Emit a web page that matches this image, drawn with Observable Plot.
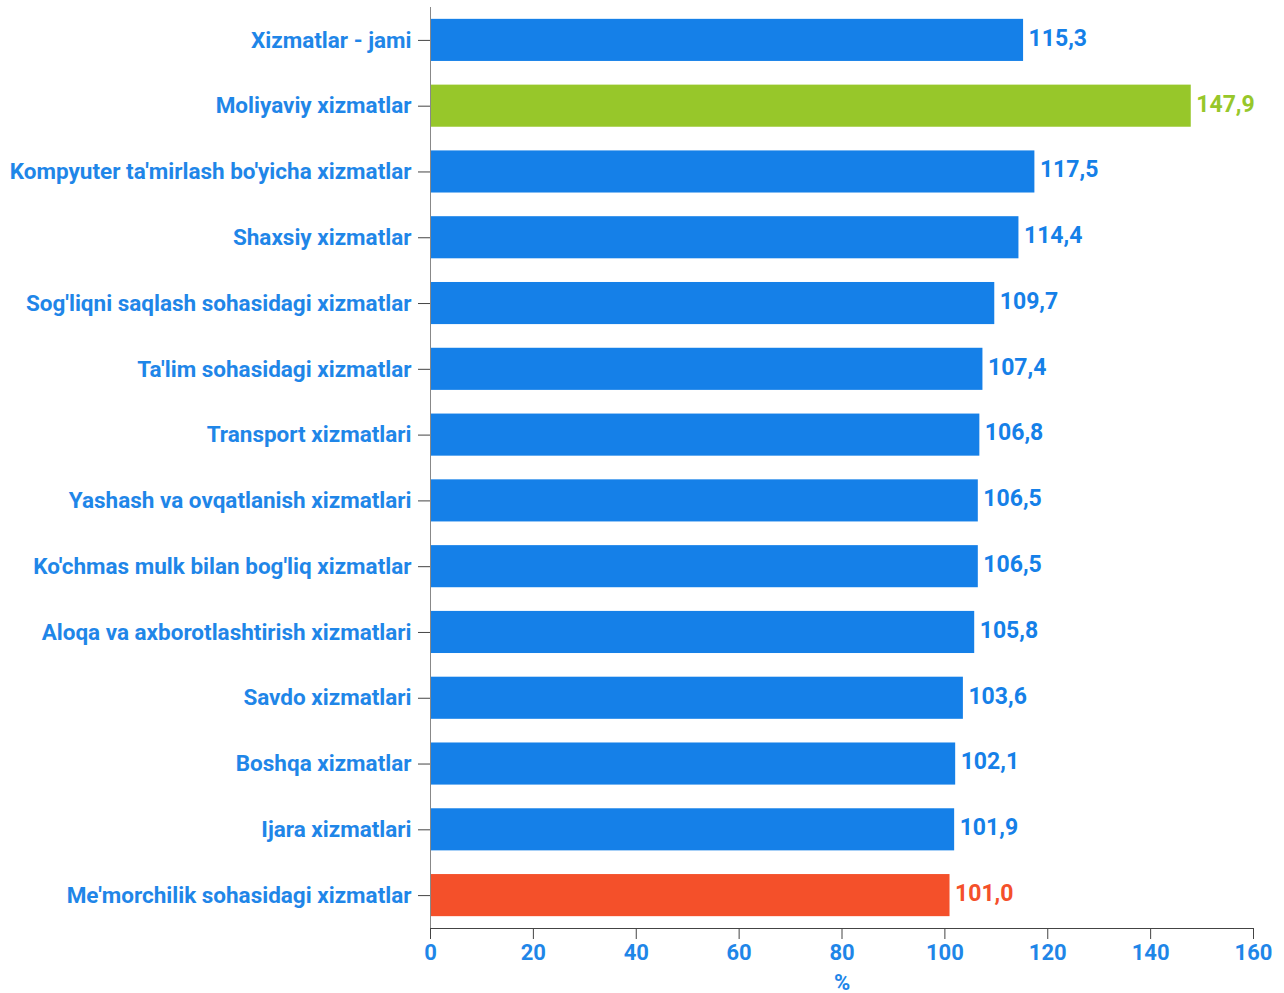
<!DOCTYPE html>
<html>
<head>
<meta charset="utf-8">
<script src="https://cdn.jsdelivr.net/npm/d3@7"></script>
<script src="https://cdn.jsdelivr.net/npm/@observablehq/plot@0.6"></script>
<style>
  html, body { margin: 0; padding: 0; background: #fff; }
  #chart svg, #chart svg text { font-family: Roboto, "Liberation Sans", sans-serif; font-weight: bold; }
</style>
</head>
<body>
<div id="chart"></div>
<script>
const categories = [
  "Xizmatlar - jami",
  "Moliyaviy xizmatlar",
  "Kompyuter ta'mirlash bo'yicha xizmatlar",
  "Shaxsiy xizmatlar",
  "Sog'liqni saqlash sohasidagi xizmatlar",
  "Ta'lim sohasidagi xizmatlar",
  "Transport xizmatlari",
  "Yashash va ovqatlanish xizmatlari",
  "Ko'chmas mulk bilan bog'liq xizmatlar",
  "Aloqa va axborotlashtirish xizmatlari",
  "Savdo xizmatlari",
  "Boshqa xizmatlar",
  "Ijara xizmatlari",
  "Me'morchilik sohasidagi xizmatlar"
];
const values = [115.3, 147.9, 117.5, 114.4, 109.7, 107.4, 106.8, 106.5, 106.5, 105.8, 103.6, 102.1, 101.9, 101.0];
const kinds = ["other", "max", "other", "other", "other", "other", "other", "other", "other", "other", "other", "other", "other", "min"];
const xTicks = [0, 20, 40, 60, 80, 100, 120, 140, 160];

const data = categories.map((c, i) => ({
  name: c, value: values[i], kind: kinds[i],
  label: values[i].toFixed(1).replace(".", ",")
}));

const colorMap = {other: "#1580e8", max: "#97c72a", min: "#f4502a"};
const textBlue = "#1f86e8";

const chart = Plot.plot({
  width: 1284,
  height: 993,
  marginLeft: 430,
  marginRight: 31,
  marginTop: 7,
  marginBottom: 65,
  style: {fontSize: "23px", fontWeight: "bold", color: textBlue, background: "#fff"},
  x: {domain: [0, 160]},
  y: {domain: categories, paddingInner: 0.36, paddingOuter: 0.18, round: false},
  marks: [
    Plot.barX(data, {y: "name", x: "value", fill: d => colorMap[d.kind]}),
    Plot.text(data, {
      y: "name", x: "value", text: "label", textAnchor: "start", dx: 5, dy: -2,
      fill: d => colorMap[d.kind], fontSize: 23, fontWeight: "bold"
    }),
    Plot.axisY({tickSize: 12, tickPadding: 7, label: null, fill: textBlue, stroke: "#444", fontSize: 22.5, fontWeight: "bold"}),
    Plot.axisX({ticks: xTicks, tickSize: 11, tickPadding: 5, tickFormat: d => String(d),
      label: "%", labelAnchor: "center", labelArrow: "none", labelOffset: 61,
      fill: textBlue, stroke: "#444", fontSize: 22, fontWeight: "bold"}),
    Plot.frame({anchor: "left", stroke: "#888"}),
    Plot.frame({anchor: "bottom", stroke: "#444"})
  ]
});
document.getElementById("chart").appendChild(chart);
</script>
</body>
</html>
